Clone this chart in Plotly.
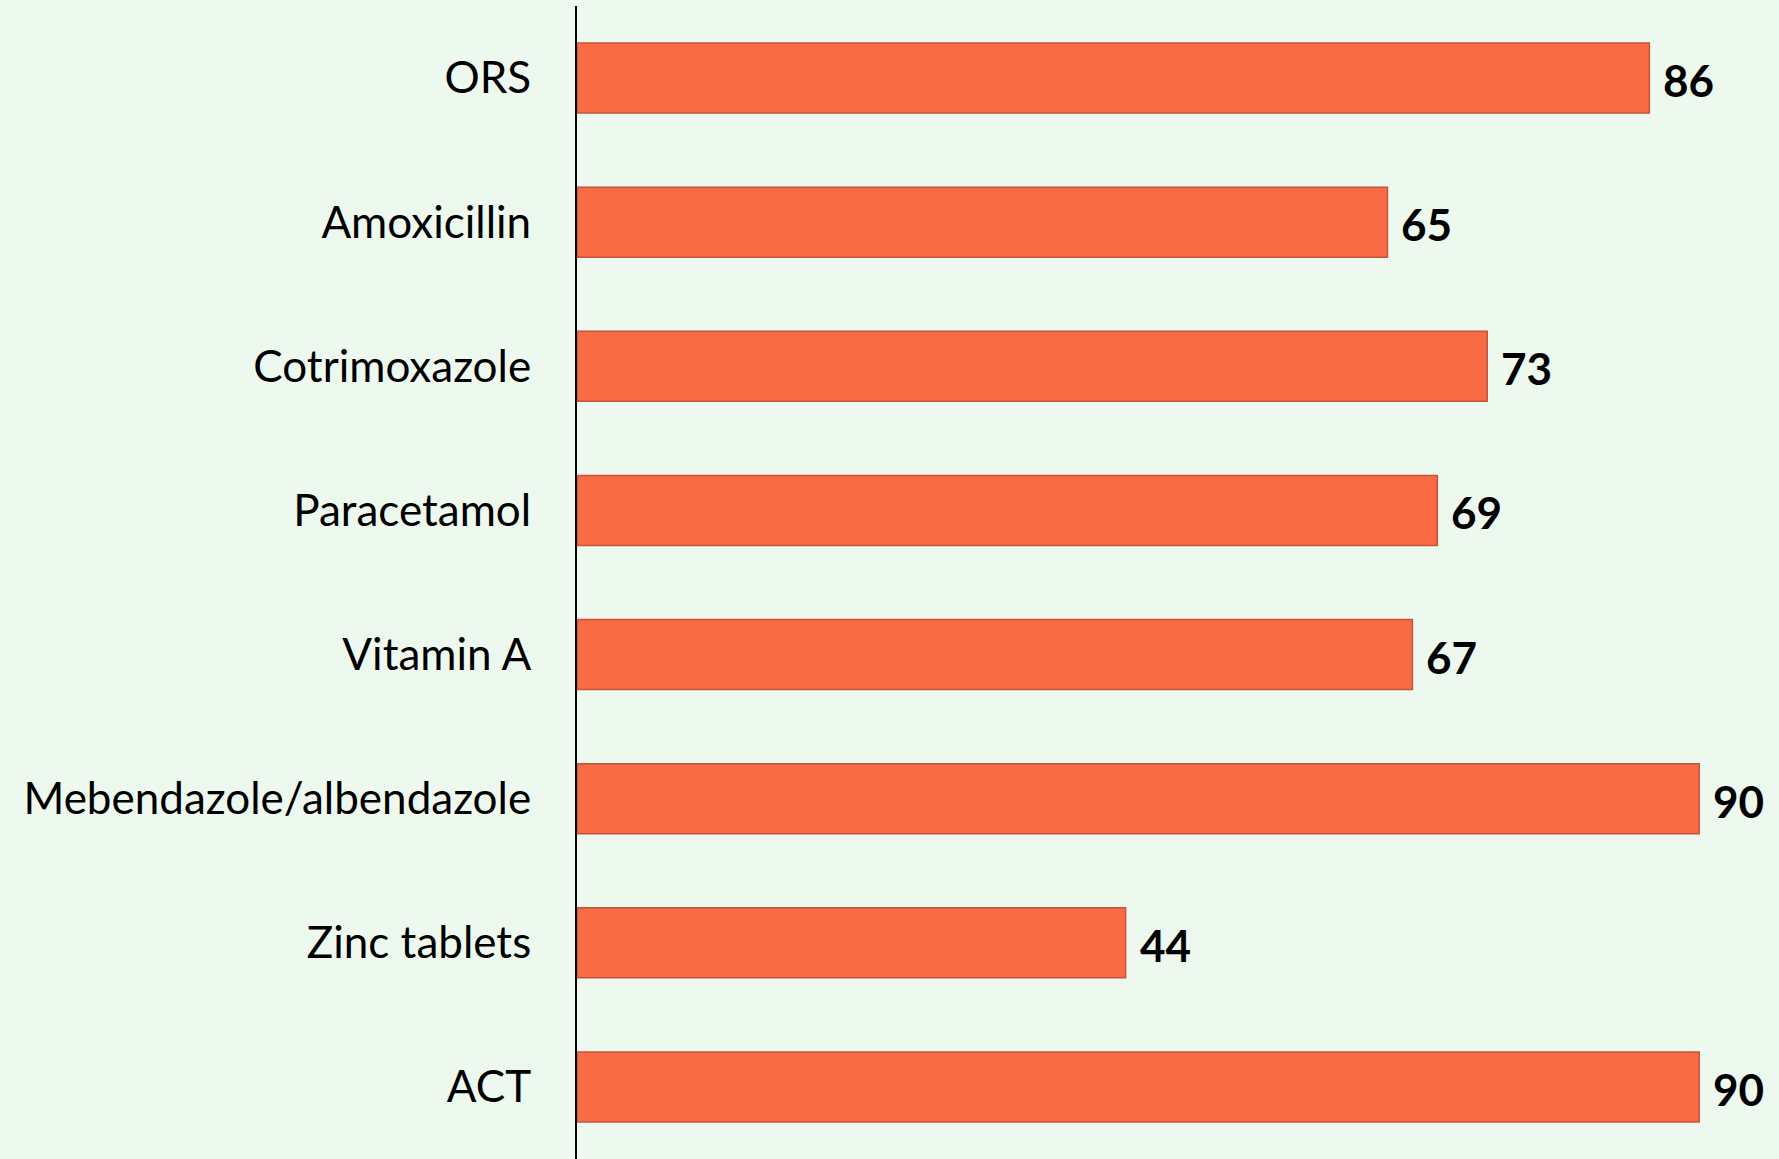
import plotly.graph_objects as go

categories = ["ORS", "Amoxicillin", "Cotrimoxazole", "Paracetamol", "Vitamin A",
              "Mebendazole/albendazole", "Zinc tablets", "ACT"]
values = [86, 65, 73, 69, 67, 90, 44, 90]

BG = "#EDF8EE"
BAR = "#F96B45"
FONT = "Lato, 'Open Sans', sans-serif"

fig = go.Figure()
fig.add_trace(go.Bar(
    x=values, y=categories, orientation="h",
    marker=dict(color=BAR, line=dict(color="#C4553A", width=1.5)),
    width=0.486, hoverinfo="x+y",
))

for c, v in zip(categories, values):
    fig.add_annotation(x=v, y=c, text=f"<b>{v}</b>", showarrow=False,
                       xanchor="left", yanchor="middle", xshift=12, yshift=-2,
                       font=dict(family=FONT, size=44, color="black"))

fig.update_layout(
    width=1779, height=1159,
    margin=dict(l=577, r=0, t=6, b=0),
    paper_bgcolor=BG, plot_bgcolor=BG,
    showlegend=False,
    font=dict(family=FONT, size=44, color="black"),
)
fig.update_xaxes(range=[0, 96.4], visible=False, showgrid=False, zeroline=False, fixedrange=True)
fig.update_yaxes(categoryorder="array", categoryarray=categories, autorange="reversed",
                 showline=True, linecolor="black", linewidth=2, showgrid=False, zeroline=False,
                 ticks="outside", ticklen=35, tickcolor="rgba(0,0,0,0)",
                 tickfont=dict(family=FONT, size=44, color="black"))

fig.write_html("out.html", config={"displayModeBar": False},
               post_script="document.body.style.margin='0';document.body.style.overflow='hidden';"
                           "document.body.style.background='" + BG + "';")
